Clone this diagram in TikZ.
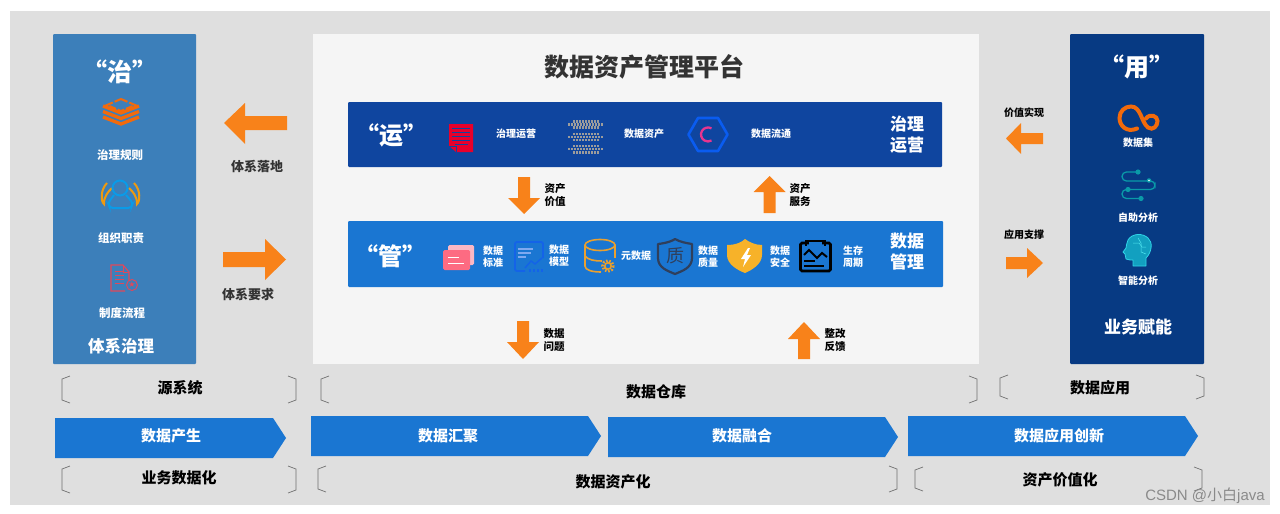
\documentclass[tikz,border=0pt]{standalone}
\usepackage{fontspec}
\setmainfont{Noto Sans CJK SC}
\newfontfamily\wmfont{Liberation Sans}
\newfontfamily\symfont{DejaVu Sans}
\usetikzlibrary{calc}
\definecolor{pagegray}{HTML}{DFDFDF}
\definecolor{panelA}{HTML}{3C7FBA}
\definecolor{panelB}{HTML}{F5F5F5}
\definecolor{panelC}{HTML}{073A83}
\definecolor{barA}{HTML}{0F459F}
\definecolor{barB}{HTML}{1A76D2}
\definecolor{arrowor}{HTML}{F8821A}
\definecolor{iconor}{HTML}{F26A0B}
\definecolor{titlec}{HTML}{333333}
\definecolor{teal2}{HTML}{0A9AA8}
\definecolor{wing}{HTML}{EE9A10}
\definecolor{persb}{HTML}{0A9BE8}
\definecolor{docred}{HTML}{E0485A}
\definecolor{nred}{HTML}{E8002B}
\definecolor{stackg}{HTML}{9C9C9C}
\definecolor{hexb}{HTML}{0A5CF0}
\definecolor{hexp}{HTML}{E8358F}
\definecolor{cardb}{HTML}{FBB8C4}
\definecolor{cardf}{HTML}{FD6B82}
\definecolor{mblue}{HTML}{1463E8}
\definecolor{mlight}{HTML}{7FA9F0}
\definecolor{cyl}{HTML}{EAA02F}
\definecolor{shd}{HTML}{2F3F5C}
\definecolor{shy}{HTML}{F7B229}
\definecolor{headf}{HTML}{12A0C0}
\definecolor{heads}{HTML}{30D5E8}
\definecolor{headl}{HTML}{50E6F0}
\definecolor{brkc}{HTML}{707070}
\definecolor{wmc}{HTML}{8A8A8A}
\tikzset{
  tw/.style={text=white,font=\bfseries\fontsize{#1}{#1}\selectfont,align=center,inner sep=0pt},
  tk/.style={text=black,font=\bfseries\fontsize{#1}{#1}\selectfont,align=center,inner sep=0pt},
  td/.style={text=titlec,font=\bfseries\fontsize{#1}{#1}\selectfont,align=center,inner sep=0pt},
  oarrow/.style={fill=arrowor,draw=none},
  chev/.style={fill=barB,draw=none},
  brk/.style={draw=brkc,line width=0.7pt},
  stk/.style={draw=stackg,line width=2.5pt,dash pattern=on 2.4pt off 0.6pt},
}
\newcommand{\HArrow}[7]{\fill[oarrow] (#1,#5)--(#2,#5)--(#2,#6)--(#3,#4)--(#2,#7)--(#2,{2*#4-#5})--(#1,{2*#4-#5})--cycle;}
\newcommand{\VArrow}[4]{\fill[oarrow] ({#1-6},#2)--({#1+6},#2)--({#1+6},#3)--({#1+16},#3)--(#1,#4)--({#1-16},#3)--({#1-6},#3)--cycle;}
\newcommand{\LBrk}[3]{\draw[brk] ({#1+8},#2)--(#1,{#2+3})--(#1,{#3-3})--({#1+8},#3);}
\newcommand{\RBrk}[3]{\draw[brk] ({#1-8},#2)--(#1,{#2+3})--(#1,{#3-3})--({#1-8},#3);}
\newcommand{\Chev}[5]{\fill[chev] (#1,#4)--(#2,#4)--(#3,{(#4+#5)/2})--(#2,#5)--(#1,#5)--cycle;}
\begin{document}
\begin{tikzpicture}[x=1pt,y=-1pt]
\useasboundingbox (0,0) rectangle (1280,514);
\fill[white] (0,0) rectangle (1280,514);
\fill[pagegray] (10,11) rectangle (1270,505);
% panels
\fill[panelA,rounded corners=1pt] (53,34) rectangle (196,364);
\fill[panelB] (313,34) rectangle (979,364);
\fill[panelC,rounded corners=1pt] (1070,34) rectangle (1204,364);
\fill[barA,rounded corners=1pt] (348,102) rectangle (942,167);
\fill[barB,rounded corners=1pt] (348,221) rectangle (943,287);
% left panel text
\node[tw=25] (zhi) at (120,72) {“治”};
\node[tw=11.5] (zl) at (120,155) {治理规则};
\node[tw=11.5] (zz) at (121,238) {组织职责};
\node[tw=11.5] (zd) at (122,313) {制度流程};
\node[tw=16.5] (tx) at (121,346) {体系治理};
% layers icon
\draw[iconor,line width=2pt,dash pattern=on 7pt off 2pt] (121,99)--(135,105)--(121,111)--(107,105)--cycle;
\foreach \d in {0,5.5,11}{\draw[iconor,line width=3.3pt] (103,{106+\d})--(121,{113+\d})--(139,{106+\d});}
% person icon
\draw[wing,line width=2pt] (107,183) .. controls (100,190) and (101,202) .. (104,204) .. controls (104,196) and (108,192) .. (112,188);
\draw[wing,line width=2pt] (134,183) .. controls (141,190) and (140,202) .. (137,204) .. controls (137,196) and (133,192) .. (129,188);
\draw[persb,line width=2pt] (120,188) circle (7.5);
\draw[persb,line width=2pt,rounded corners=3pt] (114,195)--(108,203)--(110,208)--(131,208)--(133,203)--(126,195);
% document icon
\draw[docred,line width=1.1pt] (129,281)--(129,272)--(123,265)--(111,265)--(111,291)--(125,291);
\draw[docred,line width=0.9pt] (123,265)--(123,272)--(129,272);
\foreach \y in {271,275,279,283}{\draw[docred,line width=0.9pt] (115,\y)--(124,\y);}
\draw[docred,line width=0.9pt,fill=panelA] (132,285) circle (5.5);
\node[text=docred,font=\symfont\fontsize{8}{8}\selectfont,inner sep=0pt] (star) at (132,285) {★};
% left arrows
\HArrow{287}{245}{224}{123}{116}{103}{144}
\HArrow{223}{265}{286}{259.5}{252}{239}{280}
\node[td=13] (la) at (257,166) {体系落地};
\node[td=13] (lb) at (248,295) {体系要求};
% title
\node[td=25] (title) at (644,67) {数据资产管理平台};
% bar A
\node[tw=24] (yun) at (391,135) {“运”};
\node[tw=10] (a1) at (516,133.5) {治理运营};
\node[tw=10] (a2) at (644,133.5) {数据资产};
\node[tw=10] (a3) at (771,134) {数据流通};
\node[tw=17] (a4) at (907,124) {治理};
\node[tw=17] (a5) at (907,145) {运营};
% red notepad
\fill[nred] (449,124)--(473,124)--(473,152)--(456,152)--(449,146)--cycle;
\foreach \y in {128,132,136,140}{\draw[barA,line width=0.8pt] (452,\y)--(470,\y);}
\draw[barA,line width=0.8pt] (455,144)--(468,144);
\draw[barA,line width=0.6pt] (456,152)--(456,146)--(449,146);
% gray stack
\foreach \y/\a/\b in {121.5/573/599,124.5/568/603,127.5/573/599,134/573/599,137/568/603,140/573/599,146/573/599,149/568/603,152.5/573/599}{\draw[stk] (\a,\y)--(\b,\y);}
% hexagon
\draw[hexb,line width=2.6pt,line join=round] (688.5,134.5)--(698,118)--(718,118)--(727.5,134.5)--(718,151)--(698,151)--cycle;
\draw[hexp,line width=2.3pt] (711.5,128.4) arc[start angle=-60,end angle=-300,radius=7];
% bar B
\node[tw=24] (guan) at (390,256) {“管”};
\node[tw=10] (b1) at (493,256.5) {数据\\[2pt]标准};
\node[tw=10] (b2) at (559,256) {数据\\[2pt]模型};
\node[tw=10] (b3) at (636,256) {元数据};
\node[tw=10] (b4) at (708,256.5) {数据\\[2pt]质量};
\node[tw=10] (b5) at (780,256.5) {数据\\[2pt]安全};
\node[tw=10] (b6) at (853,256.5) {生存\\[2pt]周期};
\node[tw=17] (b7) at (907,241) {数据};
\node[tw=17] (b8) at (907,262) {管理};
% cards
\fill[cardb,rounded corners=1.5pt] (448,245) rectangle (474,265);
\fill[cardf,rounded corners=1.5pt] (443,250) rectangle (470,270);
\draw[white,line width=1pt] (448,257)--(459,257);
\draw[white,line width=1pt] (448,263)--(464,263);
% model
\draw[mblue,line width=1.8pt,rounded corners=2pt] (525,271)--(515,271)--(515,242)--(543,242)--(543,258);
\foreach \y/\b in {249/533,253/531,257/526}{\draw[mlight,line width=1.4pt] (517.5,\y)--(\b,\y);}
\draw[mblue,line width=1.4pt] (525,268)--(531,261)--(535,264)--(542,258);
\foreach \x in {530,534,538,542}{\draw[mblue,line width=1.2pt] (\x,271.5)--(\x,268.5);}
% cylinder
\draw[cyl,line width=1.6pt] (600,245) ellipse [x radius=15,y radius=5.5];
\draw[cyl,line width=1.6pt] (585,245)--(585,266) .. controls (585,270) and (592,272) .. (601,272);
\draw[cyl,line width=1.6pt] (615,245)--(615,258);
\draw[cyl,line width=1.6pt] (585,256) .. controls (588,260) and (595,261) .. (602,261);
\draw[cyl,line width=3pt,dash pattern=on 1.6pt off 1.6pt] (608,266) circle (5.3);
\draw[cyl,line width=1.5pt,fill=barB] (608,266) circle (3.2);
% quality shield
\draw[shd,line width=2.2pt,line join=round] (658,244) .. controls (668,243) and (674,240) .. (675,239) .. controls (680,242) and (686,243) .. (692,244)--(692,258) .. controls (692,268) and (682,271) .. (675,274) .. controls (668,271) and (658,268) .. (658,258)--cycle;
\node[text=shd,font=\fontsize{18}{18}\selectfont,inner sep=0pt] (q) at (675,256) {质};
% yellow shield
\fill[shy] (727,245) .. controls (736,245) and (742,242) .. (745,239) .. controls (749,242) and (755,245) .. (762,245)--(762,255) .. controls (762,264) and (752,270) .. (745,273) .. controls (737,270) and (727,264) .. (727,255)--cycle;
\fill[white] (748,248)--(741,259)--(745,259)--(743,267)--(751,255)--(747,255)--(750,248)--cycle;
% black calendar
\draw[black,line width=2.8pt,rounded corners=1.5pt] (800.5,243) rectangle (830.5,271);
\draw[barB,line width=3.2pt] (809,243)--(822,243);
\draw[black,line width=2pt] (806,240)--(806,246);
\draw[black,line width=2pt] (825,240)--(825,246);
\draw[black,line width=2pt] (806,241)--(825,241);
\draw[black,line width=2pt] (804,255)--(809,250)--(817,258)--(822,253)--(827,257);
\draw[black,line width=2pt] (804,261)--(815,261);
\draw[black,line width=2pt] (804,266)--(824,266);
% center arrows
\VArrow{524}{177}{198}{214}
\VArrow{769.5}{213}{192}{176}
\VArrow{523}{321}{342}{359}
\VArrow{804}{359}{339}{322}
\node[tk=10.5] (c1) at (555,195.5) {资产\\[2.5pt]价值};
\node[tk=10.5] (c2) at (800,194.5) {资产\\[2.5pt]服务};
\node[tk=10.5] (c3) at (554,340.5) {数据\\[2.5pt]问题};
\node[tk=10.5] (c4) at (835,340.5) {整改\\[2.5pt]反馈};
% right arrows
\HArrow{1043}{1021}{1006}{138.5}{133}{123}{154}
\HArrow{1006}{1027}{1043}{263}{257}{248}{278}
\node[tk=10] (r1) at (1024,112.5) {价值实现};
\node[tk=10] (r2) at (1024,235) {应用支撑};
% right panel
\node[tw=25] (yong) at (1137,67) {“用”};
\node[tw=10] (r3) at (1138,143) {数据集};
\node[tw=10] (r4) at (1138,218) {自助分析};
\node[tw=10] (r5) at (1138,281) {智能分析};
\node[tw=17] (r6) at (1138,327) {业务赋能};
% loop icon
\draw[iconor,line width=4pt,line cap=round] (1137,128.5) .. controls (1127,133) and (1119.5,126) .. (1119.5,118) .. controls (1119.5,111) and (1125,106.5) .. (1131,106.5) .. controls (1141,106.5) and (1141,122) .. (1148,127.5) .. controls (1153,131) and (1157.5,126) .. (1157.5,121) .. controls (1157.5,116) and (1150,113) .. (1146,118.5);
% flow icon
\draw[teal2,line width=1.3pt,rounded corners=4.4pt] (1138,172)--(1122,172)--(1122,181)--(1155,181)--(1155,189.5)--(1122,189.5)--(1122,198.5)--(1141,198.5);
\fill[teal2] (1138,172) circle (2.6);
\fill[teal2] (1128,189.5) circle (2.6);
\fill[teal2] (1141,198.5) circle (2.6);
\fill[teal2] (1149,180.5) circle (2.3);
\fill[white] (1149,180.5) circle (0.9);
% head icon
\draw[heads,fill=headf,line width=0.8pt,line join=round] (1133,266)--(1146,266)--(1146,258) .. controls (1152,252) and (1153,242) .. (1148,238) .. controls (1143,233) and (1132,233) .. (1128,240) .. controls (1126,243) and (1127,246) .. (1126,248)--(1123,252)--(1125,254)--(1126,259) .. controls (1128,260) and (1131,260) .. (1133,260)--cycle;
\draw[headl,line width=0.5pt] (1133,243)--(1139,243)--(1142,247)--(1146,247);
\draw[headl,line width=0.5pt] (1138,238)--(1141,243)--(1141,252)--(1146,254);
% chevrons
\Chev{55}{273}{286}{418}{458}
\Chev{311}{588}{601}{416}{456}
\Chev{608}{885}{898}{417}{457}
\Chev{908}{1185}{1198}{416}{456}
\node[tw=15] (s1) at (171,436) {数据产生};
\node[tw=15] (s2) at (448,436) {数据汇聚};
\node[tw=15] (s3) at (742,436) {数据融合};
\node[tw=15] (s4) at (1059,436) {数据应用创新};
% brackets
\LBrk{62}{376}{403}\RBrk{296}{376}{403}
\LBrk{321}{376}{403}\RBrk{977}{376}{403}
\LBrk{1000}{375}{399}\RBrk{1204}{375}{399}
\LBrk{62}{466}{493}\RBrk{296}{466}{493}
\LBrk{318}{466}{492}\RBrk{897}{466}{492}
\LBrk{915}{467}{491}\RBrk{1202}{467}{491}
% row labels
\node[tk=15] (t1) at (180,388) {源系统};
\node[tk=15] (t2) at (656,392) {数据仓库};
\node[tk=15] (t3) at (1100,388) {数据应用};
\node[tk=15] (t4) at (179,478) {业务数据化};
\node[tk=15] (t5) at (613,482) {数据资产化};
\node[tk=15] (t6) at (1060,480) {资产价值化};
% watermark
\node[text=wmc,font=\fontsize{15}{15}\selectfont,inner sep=0pt] (wm) at (1205,496) {{\wmfont CSDN @}小白{\wmfont java}};
\end{tikzpicture}
\end{document}
